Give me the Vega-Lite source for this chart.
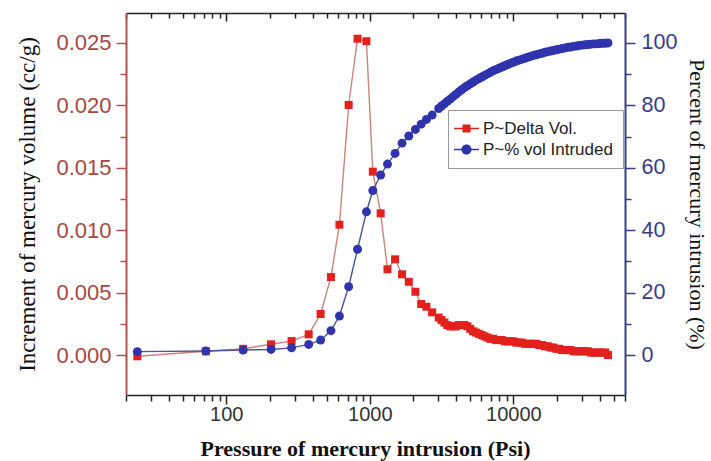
{
  "$schema": "https://vega.github.io/schema/vega-lite/v6.json",
  "width": 499,
  "height": 382,
  "autosize": {"type": "none"},
  "padding": {"left": 126, "top": 13, "right": 86, "bottom": 66},
  "background": "white",
  "config": {
    "view": {"stroke": null},
    "axis": {"grid": false, "labelFont": "Liberation Sans", "titleFont": "Liberation Serif", "labelOverlap": false, "labelFlush": false, "titleColor": "#111"},
    "legend": {
      "title": null, "orient": "none", "legendX": 322, "legendY": 97,
      "fillColor": "white", "strokeColor": "#999", "padding": 10,
      "labelFont": "Liberation Sans", "labelFontSize": 17, "labelColor": "#222",
      "symbolSize": 169, "labelOffset": 8, "rowPadding": 3, "symbolStrokeWidth": 0, "symbolOpacity": 1
    }
  },
  "data": {
    "values": [
      {"series": "P~Delta Vol.", "P": 24, "v": -0.0001},
      {"series": "P~Delta Vol.", "P": 72, "v": 0.0003},
      {"series": "P~Delta Vol.", "P": 131, "v": 0.0005},
      {"series": "P~Delta Vol.", "P": 205, "v": 0.00086},
      {"series": "P~Delta Vol.", "P": 285, "v": 0.00112},
      {"series": "P~Delta Vol.", "P": 375, "v": 0.00166},
      {"series": "P~Delta Vol.", "P": 454, "v": 0.00329},
      {"series": "P~Delta Vol.", "P": 536, "v": 0.00625},
      {"series": "P~Delta Vol.", "P": 614, "v": 0.01044},
      {"series": "P~Delta Vol.", "P": 712, "v": 0.02003},
      {"series": "P~Delta Vol.", "P": 821, "v": 0.02534},
      {"series": "P~Delta Vol.", "P": 947, "v": 0.02514},
      {"series": "P~Delta Vol.", "P": 1049, "v": 0.01469},
      {"series": "P~Delta Vol.", "P": 1190, "v": 0.01135},
      {"series": "P~Delta Vol.", "P": 1328, "v": 0.00687},
      {"series": "P~Delta Vol.", "P": 1500, "v": 0.00767},
      {"series": "P~Delta Vol.", "P": 1677, "v": 0.00647},
      {"series": "P~Delta Vol.", "P": 1869, "v": 0.00587},
      {"series": "P~Delta Vol.", "P": 2078, "v": 0.00507},
      {"series": "P~Delta Vol.", "P": 2280, "v": 0.00409},
      {"series": "P~Delta Vol.", "P": 2480, "v": 0.00387},
      {"series": "P~Delta Vol.", "P": 2720, "v": 0.00342},
      {"series": "P~Delta Vol.", "P": 3020, "v": 0.0030},
      {"series": "P~Delta Vol.", "P": 3162, "v": 0.0028},
      {"series": "P~Delta Vol.", "P": 3311, "v": 0.0026},
      {"series": "P~Delta Vol.", "P": 3467, "v": 0.0024},
      {"series": "P~Delta Vol.", "P": 3631, "v": 0.0023},
      {"series": "P~Delta Vol.", "P": 3802, "v": 0.0023},
      {"series": "P~Delta Vol.", "P": 3981, "v": 0.0023},
      {"series": "P~Delta Vol.", "P": 4169, "v": 0.0024},
      {"series": "P~Delta Vol.", "P": 4365, "v": 0.0024},
      {"series": "P~Delta Vol.", "P": 4571, "v": 0.0024},
      {"series": "P~Delta Vol.", "P": 4786, "v": 0.0023},
      {"series": "P~Delta Vol.", "P": 5012, "v": 0.0021},
      {"series": "P~Delta Vol.", "P": 5248, "v": 0.0019},
      {"series": "P~Delta Vol.", "P": 5495, "v": 0.0018},
      {"series": "P~Delta Vol.", "P": 5754, "v": 0.0017},
      {"series": "P~Delta Vol.", "P": 6026, "v": 0.0016},
      {"series": "P~Delta Vol.", "P": 6310, "v": 0.0015},
      {"series": "P~Delta Vol.", "P": 6607, "v": 0.0014},
      {"series": "P~Delta Vol.", "P": 6918, "v": 0.0013},
      {"series": "P~Delta Vol.", "P": 7244, "v": 0.0013},
      {"series": "P~Delta Vol.", "P": 7586, "v": 0.0012},
      {"series": "P~Delta Vol.", "P": 7943, "v": 0.0012},
      {"series": "P~Delta Vol.", "P": 8318, "v": 0.0012},
      {"series": "P~Delta Vol.", "P": 8710, "v": 0.0011},
      {"series": "P~Delta Vol.", "P": 9120, "v": 0.0011},
      {"series": "P~Delta Vol.", "P": 9550, "v": 0.0011},
      {"series": "P~Delta Vol.", "P": 10000, "v": 0.0011},
      {"series": "P~Delta Vol.", "P": 10471, "v": 0.0010},
      {"series": "P~Delta Vol.", "P": 10965, "v": 0.0010},
      {"series": "P~Delta Vol.", "P": 11482, "v": 0.0010},
      {"series": "P~Delta Vol.", "P": 12023, "v": 0.0009},
      {"series": "P~Delta Vol.", "P": 12589, "v": 0.0009},
      {"series": "P~Delta Vol.", "P": 13183, "v": 0.0009},
      {"series": "P~Delta Vol.", "P": 13804, "v": 0.0009},
      {"series": "P~Delta Vol.", "P": 14454, "v": 0.0009},
      {"series": "P~Delta Vol.", "P": 15136, "v": 0.0008},
      {"series": "P~Delta Vol.", "P": 15849, "v": 0.0008},
      {"series": "P~Delta Vol.", "P": 16596, "v": 0.0007},
      {"series": "P~Delta Vol.", "P": 17378, "v": 0.0007},
      {"series": "P~Delta Vol.", "P": 18197, "v": 0.0006},
      {"series": "P~Delta Vol.", "P": 19055, "v": 0.0006},
      {"series": "P~Delta Vol.", "P": 19953, "v": 0.0005},
      {"series": "P~Delta Vol.", "P": 20893, "v": 0.0005},
      {"series": "P~Delta Vol.", "P": 21878, "v": 0.0004},
      {"series": "P~Delta Vol.", "P": 22909, "v": 0.0004},
      {"series": "P~Delta Vol.", "P": 23988, "v": 0.0004},
      {"series": "P~Delta Vol.", "P": 25119, "v": 0.0004},
      {"series": "P~Delta Vol.", "P": 26303, "v": 0.0003},
      {"series": "P~Delta Vol.", "P": 27542, "v": 0.0003},
      {"series": "P~Delta Vol.", "P": 28840, "v": 0.0003},
      {"series": "P~Delta Vol.", "P": 30200, "v": 0.0003},
      {"series": "P~Delta Vol.", "P": 31623, "v": 0.0003},
      {"series": "P~Delta Vol.", "P": 33113, "v": 0.0003},
      {"series": "P~Delta Vol.", "P": 34674, "v": 0.0002},
      {"series": "P~Delta Vol.", "P": 36308, "v": 0.0002},
      {"series": "P~Delta Vol.", "P": 38019, "v": 0.0002},
      {"series": "P~Delta Vol.", "P": 39811, "v": 0.0002},
      {"series": "P~Delta Vol.", "P": 41687, "v": 0.0002},
      {"series": "P~Delta Vol.", "P": 43652, "v": 0.0002},
      {"series": "P~Delta Vol.", "P": 45709, "v": 0.0000},
      {"series": "P~% vol Intruded", "P": 24, "v": 1.1},
      {"series": "P~% vol Intruded", "P": 72, "v": 1.3},
      {"series": "P~% vol Intruded", "P": 131, "v": 1.6},
      {"series": "P~% vol Intruded", "P": 205, "v": 1.8},
      {"series": "P~% vol Intruded", "P": 285, "v": 2.3},
      {"series": "P~% vol Intruded", "P": 375, "v": 3.4},
      {"series": "P~% vol Intruded", "P": 454, "v": 4.8},
      {"series": "P~% vol Intruded", "P": 536, "v": 7.8},
      {"series": "P~% vol Intruded", "P": 614, "v": 12.5},
      {"series": "P~% vol Intruded", "P": 712, "v": 21.9},
      {"series": "P~% vol Intruded", "P": 821, "v": 33.9},
      {"series": "P~% vol Intruded", "P": 947, "v": 45.9},
      {"series": "P~% vol Intruded", "P": 1049, "v": 52.7},
      {"series": "P~% vol Intruded", "P": 1190, "v": 57.7},
      {"series": "P~% vol Intruded", "P": 1328, "v": 61.2},
      {"series": "P~% vol Intruded", "P": 1500, "v": 64.6},
      {"series": "P~% vol Intruded", "P": 1677, "v": 67.9},
      {"series": "P~% vol Intruded", "P": 1869, "v": 70.2},
      {"series": "P~% vol Intruded", "P": 2078, "v": 72.3},
      {"series": "P~% vol Intruded", "P": 2280, "v": 74.0},
      {"series": "P~% vol Intruded", "P": 2480, "v": 75.5},
      {"series": "P~% vol Intruded", "P": 2720, "v": 76.9},
      {"series": "P~% vol Intruded", "P": 3020, "v": 79.0},
      {"series": "P~% vol Intruded", "P": 3162, "v": 79.8},
      {"series": "P~% vol Intruded", "P": 3311, "v": 80.5},
      {"series": "P~% vol Intruded", "P": 3467, "v": 81.3},
      {"series": "P~% vol Intruded", "P": 3631, "v": 82.0},
      {"series": "P~% vol Intruded", "P": 3802, "v": 82.8},
      {"series": "P~% vol Intruded", "P": 3981, "v": 83.5},
      {"series": "P~% vol Intruded", "P": 4169, "v": 84.3},
      {"series": "P~% vol Intruded", "P": 4365, "v": 85.0},
      {"series": "P~% vol Intruded", "P": 4571, "v": 85.7},
      {"series": "P~% vol Intruded", "P": 4786, "v": 86.3},
      {"series": "P~% vol Intruded", "P": 5012, "v": 86.9},
      {"series": "P~% vol Intruded", "P": 5248, "v": 87.5},
      {"series": "P~% vol Intruded", "P": 5495, "v": 88.1},
      {"series": "P~% vol Intruded", "P": 5754, "v": 88.6},
      {"series": "P~% vol Intruded", "P": 6026, "v": 89.1},
      {"series": "P~% vol Intruded", "P": 6310, "v": 89.6},
      {"series": "P~% vol Intruded", "P": 6607, "v": 90.1},
      {"series": "P~% vol Intruded", "P": 6918, "v": 90.6},
      {"series": "P~% vol Intruded", "P": 7244, "v": 91.1},
      {"series": "P~% vol Intruded", "P": 7586, "v": 91.5},
      {"series": "P~% vol Intruded", "P": 7943, "v": 91.9},
      {"series": "P~% vol Intruded", "P": 8318, "v": 92.3},
      {"series": "P~% vol Intruded", "P": 8710, "v": 92.7},
      {"series": "P~% vol Intruded", "P": 9120, "v": 93.1},
      {"series": "P~% vol Intruded", "P": 9550, "v": 93.5},
      {"series": "P~% vol Intruded", "P": 10000, "v": 93.8},
      {"series": "P~% vol Intruded", "P": 10471, "v": 94.2},
      {"series": "P~% vol Intruded", "P": 10965, "v": 94.5},
      {"series": "P~% vol Intruded", "P": 11482, "v": 94.8},
      {"series": "P~% vol Intruded", "P": 12023, "v": 95.1},
      {"series": "P~% vol Intruded", "P": 12589, "v": 95.4},
      {"series": "P~% vol Intruded", "P": 13183, "v": 95.7},
      {"series": "P~% vol Intruded", "P": 13804, "v": 96.0},
      {"series": "P~% vol Intruded", "P": 14454, "v": 96.2},
      {"series": "P~% vol Intruded", "P": 15136, "v": 96.5},
      {"series": "P~% vol Intruded", "P": 15849, "v": 96.7},
      {"series": "P~% vol Intruded", "P": 16596, "v": 97.0},
      {"series": "P~% vol Intruded", "P": 17378, "v": 97.2},
      {"series": "P~% vol Intruded", "P": 18197, "v": 97.4},
      {"series": "P~% vol Intruded", "P": 19055, "v": 97.6},
      {"series": "P~% vol Intruded", "P": 19953, "v": 97.8},
      {"series": "P~% vol Intruded", "P": 20893, "v": 98.0},
      {"series": "P~% vol Intruded", "P": 21878, "v": 98.2},
      {"series": "P~% vol Intruded", "P": 22909, "v": 98.4},
      {"series": "P~% vol Intruded", "P": 23988, "v": 98.6},
      {"series": "P~% vol Intruded", "P": 25119, "v": 98.7},
      {"series": "P~% vol Intruded", "P": 26303, "v": 98.9},
      {"series": "P~% vol Intruded", "P": 27542, "v": 99.0},
      {"series": "P~% vol Intruded", "P": 28840, "v": 99.2},
      {"series": "P~% vol Intruded", "P": 30200, "v": 99.3},
      {"series": "P~% vol Intruded", "P": 31623, "v": 99.4},
      {"series": "P~% vol Intruded", "P": 33113, "v": 99.5},
      {"series": "P~% vol Intruded", "P": 34674, "v": 99.6},
      {"series": "P~% vol Intruded", "P": 36308, "v": 99.7},
      {"series": "P~% vol Intruded", "P": 38019, "v": 99.7},
      {"series": "P~% vol Intruded", "P": 39811, "v": 99.8},
      {"series": "P~% vol Intruded", "P": 41687, "v": 99.9},
      {"series": "P~% vol Intruded", "P": 43652, "v": 99.9},
      {"series": "P~% vol Intruded", "P": 45709, "v": 100.0}
    ]
  },
  "layer": [
    {
      "transform": [{"filter": "datum.series === 'P~Delta Vol.'"}],
      "encoding": {
        "x": {
          "field": "P", "type": "quantitative",
          "scale": {"type": "log", "domain": [20, 60000], "nice": false},
          "axis": {
            "orient": "bottom",
            "title": "Pressure of mercury intrusion (Psi)",
            "values": [20, 30, 40, 50, 60, 70, 80, 90, 100, 200, 300, 400, 500, 600, 700, 800, 900, 1000, 2000, 3000, 4000, 5000, 6000, 7000, 8000, 9000, 10000, 20000, 30000, 40000, 50000, 60000],
            "labelExpr": "indexof([100, 1000, 10000], datum.value) >= 0 ? format(datum.value, 'd') : ''",
            "tickSize": {"condition": {"test": "abs(log(datum.value) / LN10 - round(log(datum.value) / LN10)) < 0.001", "value": 9}, "value": 6},
            "domainColor": "#222", "domainWidth": 1.5, "tickColor": "#222", "tickWidth": 1.5,
            "labelColor": "#333", "labelFontSize": 20, "labelPadding": 0,
            "titleFontSize": 22, "titleFontWeight": "bold",
            "titleX": 239, "titleY": 53, "titleAlign": "center", "titleBaseline": "middle"
          }
        },
        "y": {
          "field": "v", "type": "quantitative",
          "scale": {"domain": [-0.0032, 0.0274], "nice": false, "zero": false},
          "axis": {
            "orient": "left",
            "title": "Increment of mercury volume (cc/g)",
            "values": [0, 0.0025, 0.005, 0.0075, 0.01, 0.0125, 0.015, 0.0175, 0.02, 0.0225, 0.025],
            "labelExpr": "round(datum.value * 400) % 2 == 0 ? format(datum.value, '.3f') : ''",
            "tickSize": {"condition": {"test": "round(datum.value * 400) % 2 == 0", "value": 10}, "value": 6},
            "domainColor": "#b4524b", "domainWidth": 2, "tickColor": "#b4524b", "tickWidth": 1.5,
            "labelColor": "#a6483f", "labelFontSize": 22, "labelPadding": 5,
            "titleFontSize": 23, "titleFontWeight": "normal",
            "titleX": -99, "titleY": 191, "titleAngle": -90, "titleAlign": "center", "titleBaseline": "middle"
          }
        }
      },
      "layer": [
        {"mark": {"type": "line", "color": "#c9847e", "strokeWidth": 1.4}},
        {
          "mark": {"type": "point", "shape": "square", "filled": true, "size": 64, "opacity": 1},
          "encoding": {
            "color": {
              "field": "series", "type": "nominal",
              "scale": {"domain": ["P~Delta Vol.", "P~% vol Intruded"], "range": ["#e3211c", "#2f33ad"]}
            }
          }
        },
        {
          "mark": {"type": "point", "filled": true, "size": 169, "opacity": 0},
          "encoding": {
            "color": {
              "field": "series", "type": "nominal",
              "scale": {"domain": ["P~Delta Vol.", "P~% vol Intruded"], "range": ["#e3211c", "#2f33ad"]}
            },
            "shape": {
              "field": "series", "type": "nominal",
              "scale": {
                "domain": ["P~Delta Vol.", "P~% vol Intruded"],
                "range": [
                  "M-1.92,-0.12H1.92V0.12H-1.92Z M-0.62,-0.62H0.62V0.62H-0.62Z",
                  "M-1.92,-0.12H1.92V0.12H-1.92Z M-0.78,0A0.78,0.78 0 1,1 0.78,0A0.78,0.78 0 1,1 -0.78,0Z"
                ]
              }
            }
          }
        }
      ]
    },
    {
      "transform": [{"filter": "datum.series === 'P~% vol Intruded'"}],
      "encoding": {
        "x": {
          "field": "P", "type": "quantitative",
          "scale": {"type": "log", "domain": [20, 60000], "nice": false},
          "axis": {
            "orient": "top", "title": null, "labels": false,
            "values": [20, 30, 40, 50, 60, 70, 80, 90, 100, 200, 300, 400, 500, 600, 700, 800, 900, 1000, 2000, 3000, 4000, 5000, 6000, 7000, 8000, 9000, 10000, 20000, 30000, 40000, 50000, 60000],
            "tickSize": {"condition": {"test": "abs(log(datum.value) / LN10 - round(log(datum.value) / LN10)) < 0.001", "value": -8}, "value": -5},
            "domainColor": "#222", "domainWidth": 1.5, "tickColor": "#222", "tickWidth": 1.5
          }
        },
        "y": {
          "field": "v", "type": "quantitative",
          "scale": {"domain": [-12.8, 109.6], "nice": false, "zero": false},
          "axis": {
            "orient": "right",
            "title": "Percent of mercury intrusion (%)",
            "values": [0, 10, 20, 30, 40, 50, 60, 70, 80, 90, 100],
            "labelExpr": "datum.value % 20 == 0 ? format(datum.value, 'd') : ''",
            "tickSize": {"condition": {"test": "datum.value % 20 == 0", "value": 10}, "value": 6},
            "domainColor": "#3c3c8a", "domainWidth": 2, "tickColor": "#3c3c8a", "tickWidth": 1.5,
            "labelColor": "#3a3a8c", "labelFontSize": 21.5, "labelPadding": 6,
            "titleFontSize": 22, "titleFontWeight": "normal",
            "titleX": 71, "titleY": 191, "titleAngle": 90, "titleAlign": "center", "titleBaseline": "middle"
          }
        }
      },
      "layer": [
        {"mark": {"type": "line", "color": "#4f5594", "strokeWidth": 1.4}},
        {
          "mark": {"type": "point", "shape": "circle", "filled": true, "size": 80, "opacity": 1},
          "encoding": {
            "color": {
              "field": "series", "type": "nominal",
              "scale": {"domain": ["P~Delta Vol.", "P~% vol Intruded"], "range": ["#e3211c", "#2f33ad"]}
            }
          }
        }
      ]
    }
  ],
  "resolve": {"scale": {"y": "independent"}, "axis": {"x": "independent"}}
}
